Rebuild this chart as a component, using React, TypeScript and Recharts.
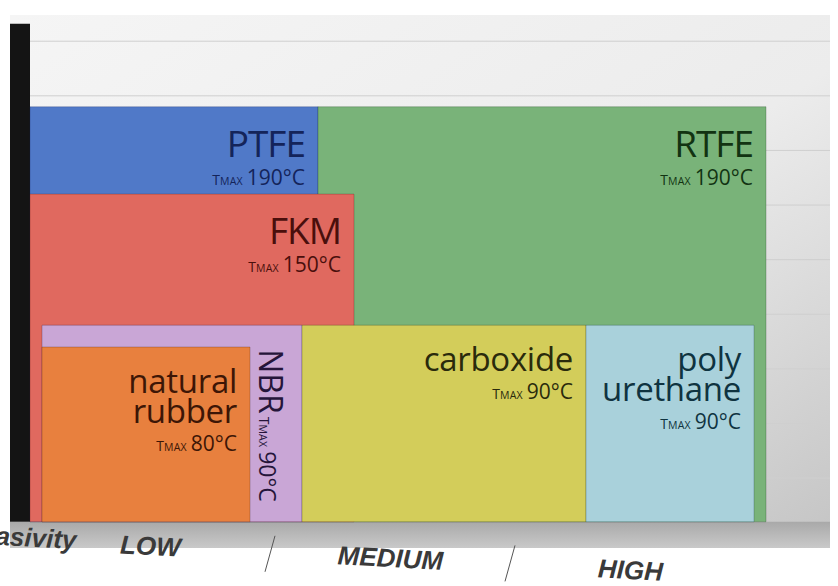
import React from "react";
import {
  ComposedChart,
  XAxis,
  YAxis,
  CartesianGrid,
  ReferenceArea,
} from "recharts";

// materials, drawn back to front
const materials = [
  "PTFE",
  "RTFE",
  "FKM",
  "NBR",
  "natural rubber",
  "carboxide",
  "poly urethane",
];
const abrasivityFrom = [0, 36, 0, 1.5, 1.5, 34, 69.5];
const abrasivityTo = [36, 92, 40.5, 34, 27.5, 69.5, 90.5];
const tempMax = [190, 190, 150, 90, 80, 90, 90];

const levelLabels = ["LOW", "MEDIUM", "HIGH"];
const levelCenters = [15, 45, 75];
const levelBounds = [30, 60];
const gridTicks = [20, 45, 70, 95, 120, 145, 170, 195, 220];

const FILLS = [
  "#5079c8",
  "#79b379",
  "#e0695f",
  "#c9a6d6",
  "#e8803e",
  "#d3cd5a",
  "#a9d1db",
];
const INKS = [
  "#14245a",
  "#123312",
  "#4a0f0c",
  "#25153a",
  "#3d1606",
  "#2a2a0c",
  "#0f3340",
];

const FONT = "'Open Sans', 'Noto Sans', sans-serif";
const AXIS_FONT = "'Liberation Sans', Arial, sans-serif";

function Tmax({ value, big = 21 }: { value: number; big?: number }) {
  return (
    <>
      <tspan fontSize={14}>T</tspan>
      <tspan fontSize={10.5} letterSpacing={0.2}>
        MAX
      </tspan>
      <tspan fontSize={big} dx={4}>
        {value}°C
      </tspan>
    </>
  );
}

function MaterialLabel({ viewBox, index }: { viewBox: any; index: number }) {
  if (!viewBox) return null;
  const { x, y, width } = viewBox;
  const name = materials[index];
  const ink = INKS[index];
  const right = x + width - 13;

  if (name === "NBR") {
    return (
      <text
        transform={`translate(${x + width - 43}, ${y + 24}) rotate(90)`}
        fill={ink}
        fontFamily={FONT}
        fontSize={32}
      >
        {name}
        <tspan dx={3}>
          <Tmax value={tempMax[index]} big={23} />
        </tspan>
      </text>
    );
  }

  const caps = name === name.toUpperCase();
  const lines = name.split(" ");
  const first = y + (caps ? 50 : 46);
  return (
    <text
      x={right}
      y={first}
      textAnchor="end"
      fill={ink}
      fontFamily={FONT}
    >
      {lines.map((ln, k) => (
        <tspan
          key={ln}
          x={right}
          dy={k === 0 ? 0 : 30}
          fontSize={caps ? 37 : 33}
          letterSpacing={caps ? -1 : -0.3}
        >
          {ln}
        </tspan>
      ))}
      <tspan x={right} dy={28}>
        <Tmax value={tempMax[index]} />
      </tspan>
    </text>
  );
}

function LevelTick({ x, y, payload }: any) {
  const v = payload.value;
  const slope = (x - 150) * 0.05;
  const li = levelCenters.indexOf(v);
  if (li >= 0) {
    const by = y + 7 + slope;
    return (
      <text
        x={x}
        y={by}
        textAnchor="middle"
        transform={`rotate(3 ${x} ${by})`}
        fontFamily={AXIS_FONT}
        fontWeight="bold"
        fontStyle="italic"
        fontSize={26}
        fill="#3a3a3a"
      >
        {levelLabels[li]}
      </text>
    );
  }
  if (levelBounds.includes(v)) {
    const top = y - 17 + slope * 0.8;
    return (
      <line
        x1={x + 5}
        y1={top}
        x2={x - 5}
        y2={top + 36}
        stroke="#555"
        strokeWidth={1}
      />
    );
  }
  return null;
}

function AxisTitle() {
  return (
    <text
      x={76}
      y={549}
      textAnchor="end"
      transform="rotate(3 76 549)"
      fontFamily={AXIS_FONT}
      fontWeight="bold"
      fontStyle="italic"
      fontSize={26}
      fill="#3a3a3a"
    >
      Abrasivity
    </text>
  );
}

export default function App() {
  const data = materials.map((m, i) => ({
    name: m,
    from: abrasivityFrom[i],
    to: abrasivityTo[i],
    tmax: tempMax[i],
  }));

  return (
    <div
      style={{
        position: "absolute",
        left: 0,
        top: 0,
        width: 838,
        height: 586,
        overflow: "hidden",
        background: "#fff",
      }}
    >
      <ComposedChart
        width={838}
        height={586}
        data={data}
        margin={{ top: 15, right: 8, bottom: 0, left: 10 }}
      >
        <defs>
          <linearGradient id="wall" x1="0" y1="0" x2="1" y2="1">
            <stop offset="0%" stopColor="#f5f5f5" />
            <stop offset="55%" stopColor="#ececec" />
            <stop offset="100%" stopColor="#c4c4c4" />
          </linearGradient>
          <linearGradient id="floor" x1="0" y1="0" x2="0" y2="1">
            <stop offset="0%" stopColor="#a9a9a9" />
            <stop offset="100%" stopColor="#c9c9c9" />
          </linearGradient>
        </defs>
        <CartesianGrid
          vertical={false}
          horizontalValues={gridTicks}
          stroke="#cfcfcf"
          fill="url(#wall)"
          fillOpacity={1}
        />
        <XAxis
          type="number"
          dataKey="from"
          domain={[-2.5, 100]}
          ticks={[...levelCenters, ...levelBounds].sort((a, b) => a - b)}
          interval={0}
          axisLine={false}
          tickLine={false}
          tickSize={0}
          tickMargin={0}
          height={38}
          tick={<LevelTick />}
          label={{ content: () => <AxisTitle /> }}
          allowDataOverflow
        />
        <YAxis
          type="number"
          domain={[-12, 232]}
          ticks={gridTicks}
          width={0}
          tick={() => null}
          axisLine={false}
          tickLine={false}
          allowDataOverflow
        />
        {/* floor and dark side wall */}
        <ReferenceArea
          x1={-2.5}
          x2={100}
          y1={-12}
          y2={0}
          fill="url(#floor)"
          fillOpacity={1}
          stroke="none"
        />
        <ReferenceArea
          x1={-2.5}
          x2={0}
          y1={0}
          y2={228}
          fill="#141414"
          fillOpacity={1}
          stroke="none"
        />
        {materials.map((m, i) => (
          <ReferenceArea
            key={m}
            x1={abrasivityFrom[i]}
            x2={abrasivityTo[i]}
            y1={0}
            y2={tempMax[i]}
            fill={FILLS[i]}
            fillOpacity={1}
            stroke={INKS[i]}
            strokeOpacity={0.25}
            strokeWidth={1}
            label={(p: any) => <MaterialLabel viewBox={p.viewBox} index={i} />}
          />
        ))}
      </ComposedChart>
    </div>
  );
}
